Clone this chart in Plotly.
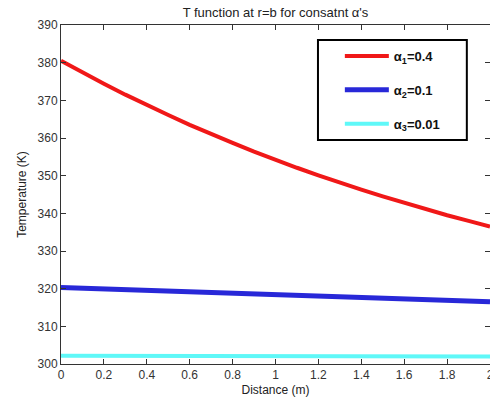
import plotly.graph_objects as go

distance = [0.0, 0.1, 0.2, 0.3, 0.4, 0.5, 0.6, 0.7, 0.8, 0.9, 1.0,
            1.1, 1.2, 1.3, 1.4, 1.5, 1.6, 1.7, 1.8, 1.9, 2.0]
temp_a1 = [380.5, 377.4, 374.4, 371.5, 368.7, 366.1, 363.5, 361.0, 358.7, 356.4, 354.2,
           352.1, 350.1, 348.1, 346.3, 344.5, 342.8, 341.1, 339.5, 338.0, 336.5]
temp_a2 = [320.3, 320.1, 319.9, 319.7, 319.5, 319.3, 319.1, 318.9, 318.7, 318.5, 318.3,
           318.1, 317.9, 317.7, 317.5, 317.3, 317.2, 317.0, 316.8, 316.6, 316.5]
temp_a3 = [302.2, 302.2, 302.2, 302.2, 302.2, 302.2, 302.2, 302.2, 302.2, 302.2, 302.2,
           302.2, 302.2, 302.2, 302.2, 302.2, 302.2, 302.2, 302.0, 302.0, 302.0]
names = ["<b>α<sub>1</sub>=0.4</b>", "<b>α<sub>2</sub>=0.1</b>", "<b>α<sub>3</sub>=0.01</b>"]
colors = ["#f01818", "#2828d8", "#5ff8f8"]
widths = [4, 5, 4]
x_ticks = [0, 0.2, 0.4, 0.6, 0.8, 1, 1.2, 1.4, 1.6, 1.8, 2]
x_tick_text = ["0", "0.2", "0.4", "0.6", "0.8", "1", "1.2", "1.4", "1.6", "1.8", "2"]

fig = go.Figure()
for i, ys in enumerate([temp_a1, temp_a2, temp_a3]):
    fig.add_trace(go.Scatter(x=distance, y=ys, mode="lines", name=names[i],
                             line=dict(color=colors[i], width=widths[i]),
                             legendgroup=f"g{i}"))

axis_common = dict(showline=True, linecolor="#333", linewidth=1, mirror="ticks",
                   ticks="inside", ticklen=5, tickcolor="#333", showgrid=False,
                   zeroline=False, automargin=False, ticklabeloverflow="allow",
                   tickfont=dict(size=12, color="#333"))

# legend frame
fig.add_shape(type="rect", xref="paper", yref="paper",
              x0=0.599, x1=0.946, y0=0.661, y1=0.956,
              line=dict(color="black", width=2), fillcolor="white", layer="above")

fig.update_layout(
    width=490, height=404,
    margin=dict(l=61, r=0, t=25, b=40),
    paper_bgcolor="white", plot_bgcolor="white",
    font=dict(family="Liberation Sans, Arial, sans-serif", size=11, color="#222"),
    title=dict(text="T function at r=b for consatnt α's", x=0.5, xref="paper",
               xanchor="center", y=1 - 12 / 404, yref="container", yanchor="middle",
               font=dict(size=13, color="#222")),
    xaxis=dict(range=[0, 2], tickvals=x_ticks, ticktext=x_tick_text,
               title=dict(text="Distance (m)", standoff=4, font=dict(size=12)), **axis_common),
    yaxis=dict(range=[300, 390], dtick=10,
               title=dict(text="Temperature (K)", standoff=8, font=dict(size=12)), **axis_common),
    legend=dict(x=0.650, y=0.953, xanchor="left", yanchor="top",
                borderwidth=0, bgcolor="rgba(0,0,0,0)",
                font=dict(size=13, color="#111"), tracegroupgap=14,
                itemwidth=44, traceorder="grouped"),
)

fig.write_html("out.html", config={"displayModeBar": False},
               post_script="document.body.style.margin='0';document.body.style.overflow='hidden';")
